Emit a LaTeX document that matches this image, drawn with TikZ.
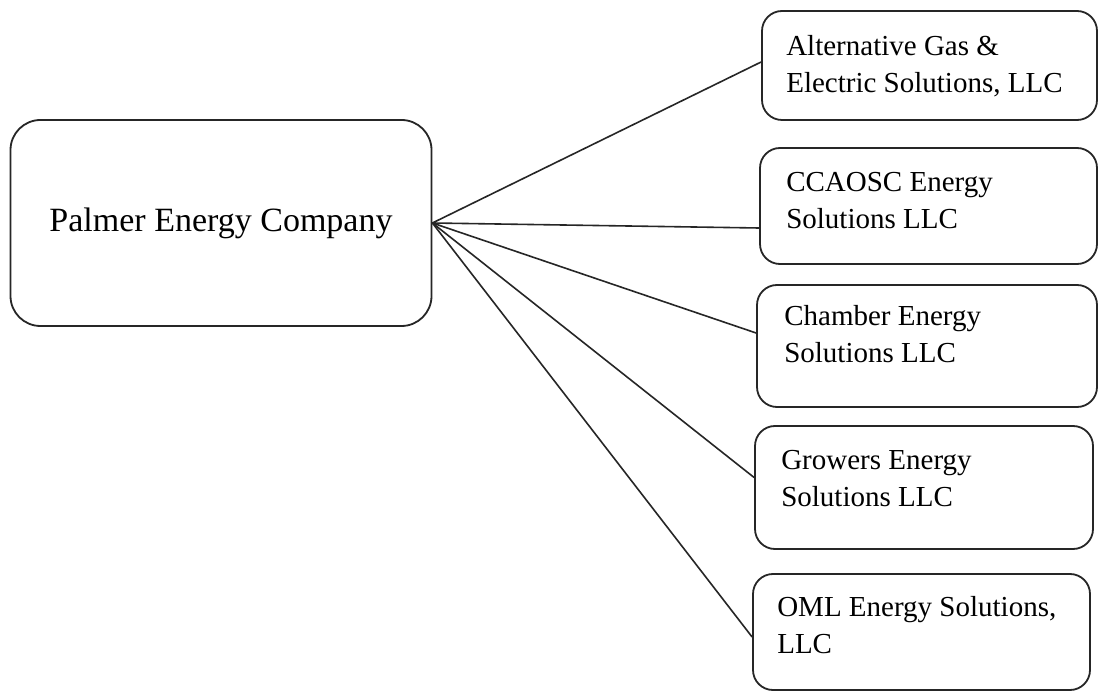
\documentclass[tikz,border=0pt]{standalone}
\usepackage{fontspec}
\setmainfont{Liberation Serif}
\begin{document}
\begin{tikzpicture}[x=1pt,y=-1pt,
  mainbox/.style={draw=black!85, line width=1.8pt, rounded corners=30pt, minimum width=421pt, minimum height=206pt, inner sep=0pt, font=\fontsize{34}{39}\selectfont},
  subbox/.style={draw=black!85, line width=1.8pt, rounded corners=20pt, inner sep=0pt},
  subtext/.style={anchor=north west, inner sep=0pt, align=left, font=\fontsize{29}{37}\selectfont},
  link/.style={draw=black!85, line width=1.6pt}]
\useasboundingbox[fill=white] (0,0) rectangle (1098,692);
\node[mainbox] (pec) at (221,223) {\raisebox{-2pt}{Palmer Energy Company}};
\node[subbox, minimum width=335pt, minimum height=109pt] (b1) at (929.5,65.5) {};
\node[subbox, minimum width=337pt, minimum height=116pt] (b2) at (928.5,206) {};
\node[subbox, minimum width=340pt, minimum height=122pt] (b3) at (927,346) {};
\node[subbox, minimum width=338pt, minimum height=123pt] (b4) at (924,487.5) {};
\node[subbox, minimum width=337pt, minimum height=116pt] (b5) at (921.5,632) {};
\node[subtext] (t1) at ([xshift=25pt]b1.west |- 0,35) {Alternative Gas \&\\Electric Solutions, LLC};
\node[subtext] (t2) at ([xshift=27pt]b2.west |- 0,172) {CCAOSC Energy\\Solutions LLC};
\node[subtext] (t3) at ([xshift=28pt]b3.west |- 0,305) {Chamber Energy\\Solutions LLC};
\node[subtext] (t4) at ([xshift=27pt]b4.west |- 0,450) {Growers Energy\\Solutions LLC};
\node[subtext] (t5) at ([xshift=25pt]b5.west |- 0,596) {OML Energy Solutions,\\LLC};
\coordinate (src) at ([yshift=0pt]pec.east);
\draw[link] (src) -- ([yshift=3.5pt]b1.west);
\draw[link] (src) -- ([yshift=-22pt]b2.west);
\draw[link] (src) -- ([yshift=13pt]b3.west);
\draw[link] (src) -- ([yshift=10pt]b4.west);
\draw[link] (src) -- ([yshift=-5pt]b5.west);
\end{tikzpicture}
\end{document}
